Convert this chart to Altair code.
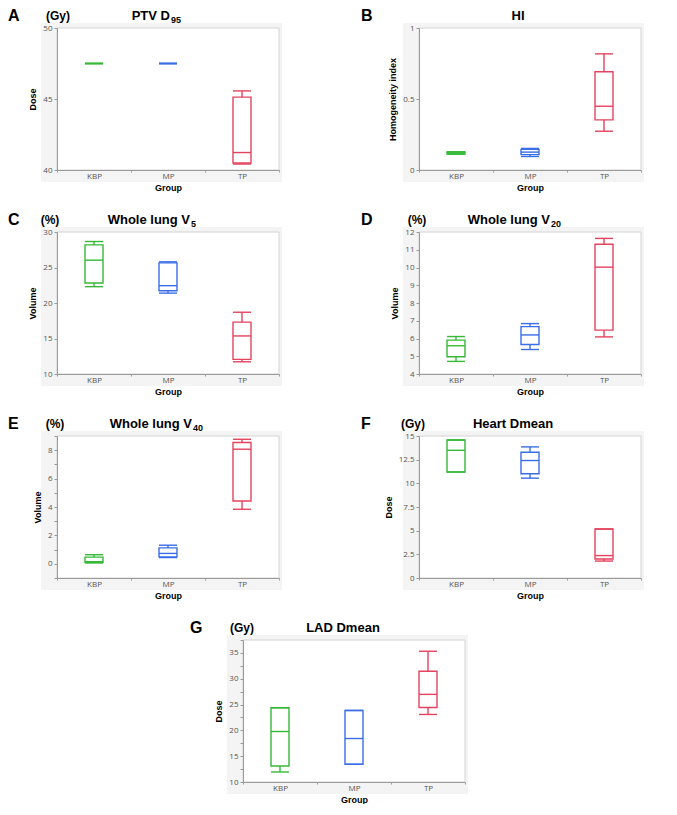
import altair as alt
import pandas as pd

GROUPS = ["KBP", "MP", "TP"]
COLORS = ["#36b936", "#3a6ee6", "#e4435d"]

# ---- Panel A: PTV D95 (Gy) ----
a_min = [47.5, 47.5, 40.42]
a_q1 = [47.5, 47.5, 40.49]
a_med = [47.5, 47.5, 41.23]
a_q3 = [47.5, 47.5, 45.13]
a_max = [47.5, 47.5, 45.57]

# ---- Panel B: HI ----
b_min = [0.112, 0.095, 0.273]
b_q1 = [0.113, 0.108, 0.353]
b_med = [0.120, 0.126, 0.449]
b_q3 = [0.127, 0.145, 0.692]
b_max = [0.128, 0.152, 0.818]

# ---- Panel C: Whole lung V5 (%) ----
c_min = [22.30, 21.39, 11.72]
c_q1 = [22.82, 21.72, 12.06]
c_med = [26.03, 22.44, 15.36]
c_q3 = [28.18, 25.65, 17.30]
c_max = [28.66, 25.80, 18.70]

# ---- Panel D: Whole lung V20 (%) ----
d_min = [4.71, 5.38, 6.09]
d_q1 = [4.97, 5.66, 6.47]
d_med = [5.59, 6.20, 10.02]
d_q3 = [5.91, 6.67, 11.31]
d_max = [6.11, 6.84, 11.64]

# ---- Panel E: Whole lung V40 (%) ----
e_min = [0.06, 0.44, 3.84]
e_q1 = [0.10, 0.49, 4.42]
e_med = [0.15, 0.73, 8.07]
e_q3 = [0.47, 1.12, 8.54]
e_max = [0.64, 1.31, 8.77]

# ---- Panel F: Heart Dmean (Gy) ----
f_min = [11.20, 10.55, 1.79]
f_q1 = [11.20, 11.02, 2.00]
f_med = [13.49, 12.41, 2.37]
f_q3 = [14.57, 13.28, 5.17]
f_max = [14.57, 13.85, 5.17]

# ---- Panel G: LAD Dmean (Gy) ----
g_min = [11.94, 13.43, 23.08]
g_q1 = [13.10, 13.43, 24.44]
g_med = [19.78, 18.42, 26.97]
g_q3 = [24.38, 23.86, 31.44]
g_max = [24.38, 23.86, 35.32]

W, H = 222, 142
BOX = 18
SW = 1.4
FONT = "Liberation Sans"
AXCOMMON = dict(zindex=1, grid=False, domainColor="#9a9a9a", tickColor="#9a9a9a",
                labelFont="Open Sans", labelFontSize=8, labelColor="#555555",
                titleFont=FONT, titleFontSize=9, titleFontWeight="bold", titleColor="black")


def text_layer(txt, x, y, size, align):
    return alt.Chart(pd.DataFrame({"t": [txt]})).mark_text(
        font=FONT, fontSize=size, fontWeight="bold", align=align, baseline="alphabetic",
        color="black").encode(text="t:N", x=alt.value(x), y=alt.value(y))


def panel(letter, unit, title, sub, ytitle, domain, majors, minors,
          mins, q1s, meds, q3s, maxs, letter_x, unit_x, title_x):
    df = pd.DataFrame({"group": GROUPS, "mn": mins, "q1": q1s,
                       "med": meds, "q3": q3s, "mx": maxs})
    xs = alt.X("group:N",
               scale=alt.Scale(domain=GROUPS, paddingInner=0, paddingOuter=0),
               axis=alt.Axis(title="Group", labelAngle=0, tickBand="extent",
                             tickSize=2, labelPadding=0, titlePadding=3, **AXCOMMON))
    vals = sorted(majors + minors)
    maj = ",".join(str(m) for m in majors)
    ysc = alt.Scale(domain=domain, nice=False, zero=False)
    yax = alt.Axis(title=ytitle, values=vals,
                   labelExpr=f"indexof([{maj}], datum.value) >= 0 ? format(datum.value, '~g') : ''",
                   tickSize=3, labelPadding=2, titlePadding=5, **AXCOMMON)

    def Y(f):
        return alt.Y(f"{f}:Q", scale=ysc, axis=yax)

    def Y2(f):
        return alt.Y2(f"{f}:Q")

    color = alt.Color("group:N", scale=alt.Scale(domain=GROUPS, range=COLORS), legend=None)
    base = alt.Chart(df)
    one = pd.DataFrame({"a": [0]})

    bg = alt.Chart(one).mark_rect(color="#f4f4f4").encode(
        x=alt.value(-16), x2=alt.value(W + 3), y=alt.value(-5), y2=alt.value(H + 12))
    plotbg = alt.Chart(one).mark_rect(fill="white", stroke="#d4d4d4", strokeWidth=1).encode(
        x=alt.value(0), x2=alt.value(W), y=alt.value(0), y2=alt.value(H))

    wlo = base.mark_rule(strokeWidth=SW).encode(x=xs, y=Y("mn"), y2=Y2("q1"), color=color)
    whi = base.mark_rule(strokeWidth=SW).encode(x=xs, y=Y("q3"), y2=Y2("mx"), color=color)
    box = base.mark_bar(filled=False, size=BOX, strokeWidth=SW, opacity=1).encode(
        x=xs, y=Y("q1"), y2=Y2("q3"), color=color)
    clo = base.mark_tick(size=BOX, thickness=SW, opacity=1).encode(x=xs, y=Y("mn"), color=color)
    chi = base.mark_tick(size=BOX, thickness=SW, opacity=1).encode(x=xs, y=Y("mx"), color=color)
    cmed = base.mark_tick(size=BOX, thickness=SW, opacity=1).encode(x=xs, y=Y("med"), color=color)

    layers = [bg, plotbg, wlo, whi, box, clo, chi, cmed]
    layers.append(text_layer(letter, letter_x, -7, 16, "left"))
    if unit:
        layers.append(text_layer(unit, unit_x, -8, 12, "center"))
    if sub:
        # main title ends at title_x, subscript follows
        layers.append(text_layer(title, title_x, -8, 13, "right"))
        layers.append(text_layer(sub, title_x + 1, -5, 9, "left"))
    else:
        layers.append(text_layer(title, title_x, -8, 13, "center"))

    return alt.layer(*layers).properties(width=W, height=H)


pA = panel("A", "(Gy)", "PTV D", "95", "Dose", [40, 50], [40, 45, 50], [],
           a_min, a_q1, a_med, a_q3, a_max, -49, 1, 113)
pB = panel("B", "", "HI", "", "Homogeneity index", [0, 1], [0, 0.5, 1], [],
           b_min, b_q1, b_med, b_q3, b_max, -58, 0, 99)
pC = panel("C", "(%)", "Whole lung V", "5", "Volume", [10, 30], [10, 15, 20, 25, 30], [],
           c_min, c_q1, c_med, c_q3, c_max, -49, -7, 133)
pD = panel("D", "(%)", "Whole lung V", "20", "Volume", [4, 12], [4, 5, 6, 7, 8, 9, 10, 11, 12], [],
           d_min, d_q1, d_med, d_q3, d_max, -58, -2, 131)
pE = panel("E", "(%)", "Whole lung V", "40", "Volume", [-1, 9], [0, 2, 4, 6, 8], [-1, 1, 3, 5, 7, 9],
           e_min, e_q1, e_med, e_q3, e_max, -49, -2, 135)
pF = panel("F", "(Gy)", "Heart Dmean", "", "Dose", [0, 15], [0, 2.5, 5, 7.5, 10, 12.5, 15], [],
           f_min, f_q1, f_med, f_q3, f_max, -58, -6, 94)
pG = panel("G", "(Gy)", "LAD Dmean", "", "Dose", [10, 37.5], [10, 15, 20, 25, 30, 35],
           [12.5, 17.5, 22.5, 27.5, 32.5, 37.5],
           g_min, g_q1, g_med, g_q3, g_max, -53, -1, 100)

spacer = alt.Chart(pd.DataFrame({"a": [0]})).mark_rect(opacity=0).encode(
    x=alt.value(0), x2=alt.value(1), y=alt.value(0), y2=alt.value(1)
).properties(width=133, height=10)

row1 = alt.hconcat(pA, pB, spacing=79)
row2 = alt.hconcat(pC, pD, spacing=79)
row3 = alt.hconcat(pE, pF, spacing=79)
row4 = alt.hconcat(spacer, pG, spacing=0)

chart = alt.vconcat(row1, row2, row3, row4, spacing=20).properties(
    padding={"left": 0, "top": 0, "right": 0, "bottom": 0}
).configure_view(strokeWidth=0)

chart.save("out.html", embed_options={"renderer": "svg", "actions": False})
